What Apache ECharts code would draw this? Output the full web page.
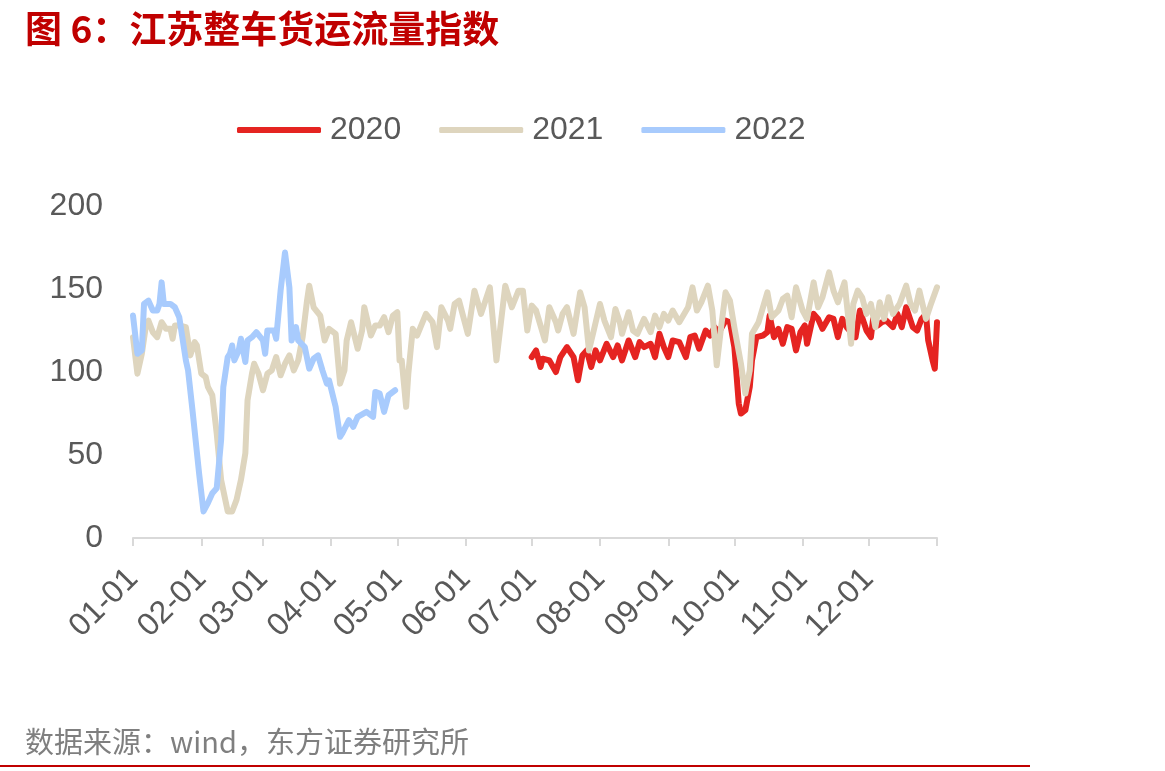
<!DOCTYPE html>
<html>
<head>
<meta charset="utf-8">
<script src="https://cdn.jsdelivr.net/npm/echarts@6/dist/echarts.min.js"></script>
<style>
  html, body { margin: 0; padding: 0; background: #fff; }
  #chart { width: 1165px; height: 771px; }
</style>
</head>
<body>
<div id="chart"></div>
<script>
// day of year (0 = 01-01) for each reading
var monthStarts = [0, 31, 59, 90, 120, 151, 181, 212, 243, 273, 304, 334];
var monthLabels = ['01-01', '02-01', '03-01', '04-01', '05-01', '06-01',
                   '07-01', '08-01', '09-01', '10-01', '11-01', '12-01'];

var days2020 = [181, 183, 185, 186, 189, 192, 194, 197, 200, 202, 204, 206, 208, 210, 212, 215, 218, 220,
  222, 225, 228, 230, 232, 235, 237, 239, 241, 243, 245, 248, 251, 253, 255, 257, 260, 262, 264, 266,
  269, 271, 273, 275, 276, 278, 280, 281, 283, 286, 288, 289, 291, 293, 295, 297, 299, 301, 303, 305,
  306, 309, 311, 313, 316, 318, 320, 322, 324, 328, 330, 333, 335, 336, 338, 340, 342, 345, 347, 349,
  351, 354, 356, 358, 360, 361, 363, 364, 365];
var vals2020 = [109, 113, 103, 108, 107, 100, 109, 115, 109, 95, 110, 113, 103, 113, 107, 117, 109, 116,
  107, 119, 109, 118, 115, 117, 109, 123, 115, 109, 119, 118, 109, 121, 122, 114, 125, 122, 127, 124,
  131, 130, 115, 81, 75, 77, 91, 107, 121, 122, 124, 134, 121, 126, 117, 127, 126, 113, 124, 128,
  117, 135, 132, 126, 133, 132, 121, 132, 127, 121, 137, 125, 121, 132, 128, 130, 131, 127, 135, 127,
  139, 127, 125, 132, 135, 119, 107, 102, 130];

var days2021 = [0, 2, 4, 6, 7, 9, 11, 13, 15, 17, 18, 19, 21, 24, 26, 28, 29, 31, 33, 34, 36, 38, 40, 43,
  45, 47, 49, 51, 52, 54, 55, 57, 59, 61, 63, 65, 67, 69, 71, 73, 75, 77, 79, 80, 82, 85, 87, 89, 92,
  94, 96, 97, 99, 102, 104, 105, 108, 110, 112, 114, 116, 118, 120, 121, 122, 124, 125, 127, 129, 133,
  136, 138, 140, 143, 144, 146, 148, 152, 155, 158, 162, 165, 169, 172, 175, 177, 179, 181, 183, 187,
  189, 192, 193, 195, 197, 200, 203, 205, 207, 209, 212, 214, 217, 219, 221, 222, 225, 227, 229, 232,
  235, 237, 239, 241, 243, 245, 248, 252, 254, 256, 258, 261, 263, 265, 267, 269, 271, 273, 276, 278,
  280, 281, 284, 288, 290, 293, 295, 297, 299, 301, 304, 306, 309, 311, 313, 316, 318, 320, 323, 326,
  327, 329, 331, 333, 335, 337, 339, 341, 343, 345, 348, 351, 353, 355, 357, 360, 362, 365];
var vals2021 = [121, 99, 111, 129, 131, 124, 121, 130, 126, 126, 120, 128, 128, 127, 110, 118, 116, 99,
  97, 91, 86, 63, 35, 16, 16, 23, 35, 51, 83, 99, 105, 99, 89, 99, 101, 109, 98, 105, 110, 101, 107,
  121, 143, 152, 139, 134, 119, 126, 123, 93, 101, 119, 130, 114, 125, 139, 122, 128, 128, 133, 124,
  134, 136, 107, 107, 79, 99, 126, 122, 135, 130, 115, 139, 131, 126, 141, 143, 123, 149, 135, 151,
  107, 152, 139, 149, 149, 125, 140, 137, 119, 139, 130, 125, 135, 139, 123, 148, 139, 113, 124, 141,
  131, 121, 138, 130, 123, 136, 125, 123, 132, 124, 134, 127, 135, 131, 137, 130, 139, 151, 137, 142,
  152, 137, 104, 127, 148, 143, 127, 105, 87, 101, 123, 130, 148, 133, 137, 144, 146, 133, 151, 137,
  132, 154, 139, 145, 160, 149, 142, 154, 117, 141, 149, 145, 135, 141, 127, 142, 132, 145, 135, 141,
  152, 141, 137, 149, 132, 140, 151];

var days2022 = [0, 2, 4, 5, 7, 9, 11, 12, 13, 14, 17, 19, 21, 24, 25, 27, 30, 32, 34, 36, 38, 40, 41, 43,
  44, 45, 46, 48, 49, 51, 52, 54, 56, 59, 60, 61, 64, 65, 67, 69, 71, 72, 74, 75, 78, 80, 82, 84, 86,
  88, 89, 92, 94, 95, 98, 100, 102, 106, 109, 110, 112, 114, 116, 119];
var vals2022 = [134, 111, 113, 141, 143, 137, 137, 141, 154, 141, 141, 139, 133, 107, 101, 77, 39, 16,
  21, 27, 30, 59, 91, 109, 111, 116, 107, 113, 120, 106, 119, 121, 124, 119, 111, 125, 125, 120, 149,
  172, 151, 119, 127, 119, 115, 102, 108, 110, 101, 93, 95, 79, 61, 63, 71, 67, 73, 76, 73, 88, 87,
  76, 86, 89];

function pairs(days, vals) {
  return days.map(function (d, i) { return [d, vals[i]]; });
}

var chart = echarts.init(document.getElementById('chart'));
var labelColor = '#595959';

var option = {
  animation: false,
  backgroundColor: '#fff',
  title: [{
    text: '图 6：江苏整车货运流量指数',
    left: 20, top: 5,
    textStyle: { color: '#c00000', fontSize: 37, fontWeight: 'bold', fontFamily: 'Noto Sans CJK SC' }
  }, {
    text: '数据来源：wind，东方证券研究所',
    left: 20, top: 722,
    textStyle: { color: '#7f7f7f', fontSize: 29, fontWeight: 'normal', fontFamily: 'Noto Sans CJK SC' }
  }],
  graphic: [{
    type: 'line',
    shape: { x1: 0, y1: 766, x2: 1030, y2: 766 },
    style: { stroke: '#c00000', lineWidth: 2 }
  }],
  legend: {
    left: 232, top: 109,
    itemWidth: 84, itemHeight: 6, itemGap: 38,
    icon: 'roundRect',
    textStyle: { color: labelColor, fontSize: 32, fontFamily: 'Liberation Sans, Arial', padding: [0, 0, 0, 4] },
    data: ['2020', '2021', '2022']
  },
  grid: { left: 133, right: 228, top: 206, bottom: 233 },
  xAxis: {
    type: 'value',
    min: 0, max: 365,
    splitLine: { show: false },
    axisLine: { lineStyle: { color: '#d9d9d9', width: 2 } },
    axisTick: { show: true, length: 8, lineStyle: { color: '#d9d9d9', width: 2 },
                customValues: monthStarts.concat([365]) },
    axisLabel: {
      customValues: monthStarts,
      rotate: 45, margin: 36,
      color: labelColor, fontSize: 32, fontFamily: 'Liberation Sans, Arial',
      formatter: function (v) { return monthLabels[monthStarts.indexOf(v)]; }
    }
  },
  yAxis: {
    type: 'value',
    min: 0, max: 200, interval: 50,
    splitLine: { show: false },
    axisLine: { show: false },
    axisTick: { show: false },
    axisLabel: { margin: 30, color: labelColor, fontSize: 32, fontFamily: 'Liberation Sans, Arial' }
  },
  series: [
    { name: '2020', type: 'line', data: pairs(days2020, vals2020), showSymbol: false, color: '#e52421',
      lineStyle: { width: 6, cap: 'round', join: 'round' } },
    { name: '2021', type: 'line', data: pairs(days2021, vals2021), showSymbol: false, color: '#ded5be',
      lineStyle: { width: 6, cap: 'round', join: 'round' } },
    { name: '2022', type: 'line', data: pairs(days2022, vals2022), showSymbol: false, color: '#a8cbfd',
      lineStyle: { width: 6, cap: 'round', join: 'round' } }
  ]
};

chart.setOption(option);
</script>
</body>
</html>
